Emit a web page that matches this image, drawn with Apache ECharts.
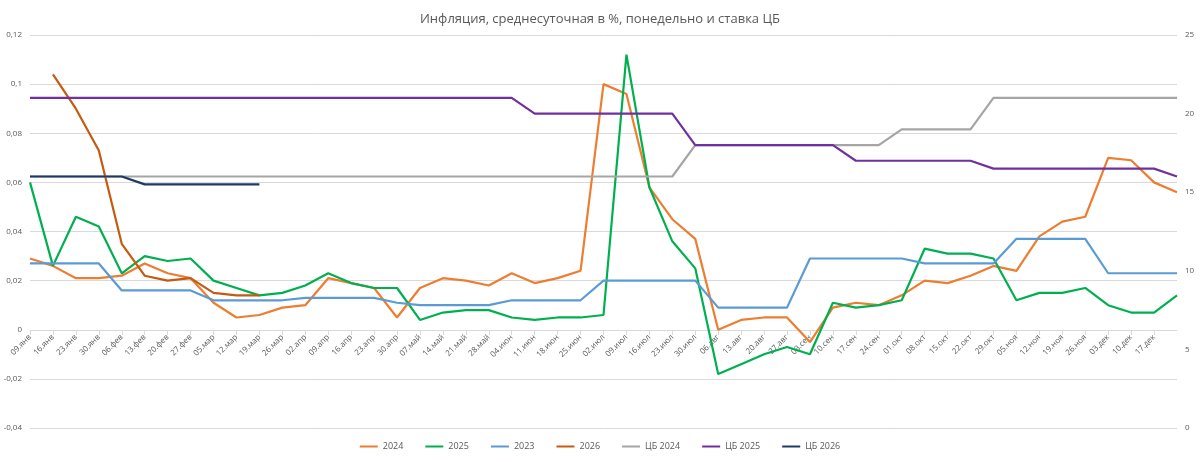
<!DOCTYPE html>
<html>
<head>
<meta charset="utf-8">
<script src="https://cdn.jsdelivr.net/npm/echarts@6/dist/echarts.min.js"></script>
<style>html,body{margin:0;padding:0;background:#fff}#chart{width:1200px;height:462px}</style>
</head>
<body>
<div id="chart"></div>
<script>
const weeks = ['09.янв','16.янв','23.янв','30.янв','06.фев','13.фев','20.фев','27.фев','05.мар','12.мар','19.мар','26.мар','02.апр','09.апр','16.апр','23.апр','30.апр','07.май','14.май','21.май','28.май','04.июн','11.июн','18.июн','25.июн','02.июл','09.июл','16.июл','23.июл','30.июл','06.авг','13.авг','20.авг','27.авг','03.сен','10.сен','17.сен','24.сен','01.окт','08.окт','15.окт','22.окт','29.окт','05.ноя','12.ноя','19.ноя','26.ноя','03.дек','10.дек','17.дек','24.дек'];

const infl2024 = [0.029,0.026,0.021,0.021,0.022,0.027,0.023,0.021,0.011,0.005,0.006,0.009,0.010,0.021,0.019,0.017,0.005,0.017,0.021,0.020,0.018,0.023,0.019,0.021,0.024,0.100,0.096,0.058,0.045,0.037,0.000,0.004,0.005,0.005,-0.005,0.009,0.011,0.010,0.014,0.020,0.019,0.022,0.026,0.024,0.038,0.044,0.046,0.070,0.069,0.060,0.056];
const infl2025 = [0.060,0.026,0.046,0.042,0.023,0.030,0.028,0.029,0.020,0.017,0.014,0.015,0.018,0.023,0.019,0.017,0.017,0.004,0.007,0.008,0.008,0.005,0.004,0.005,0.005,0.006,0.112,0.058,0.036,0.025,-0.018,-0.014,-0.010,-0.007,-0.010,0.011,0.009,0.010,0.012,0.033,0.031,0.031,0.029,0.012,0.015,0.015,0.017,0.010,0.007,0.007,0.014];
const infl2023 = [0.027,0.027,0.027,0.027,0.016,0.016,0.016,0.016,0.012,0.012,0.012,0.012,0.013,0.013,0.013,0.013,0.011,0.010,0.010,0.010,0.010,0.012,0.012,0.012,0.012,0.020,0.020,0.020,0.020,0.020,0.009,0.009,0.009,0.009,0.029,0.029,0.029,0.029,0.029,0.027,0.027,0.027,0.027,0.037,0.037,0.037,0.037,0.023,0.023,0.023,0.023];
const infl2026 = [null,0.104,0.090,0.073,0.035,0.022,0.020,0.021,0.015,0.014,0.014];

const cb2024 = [16,16,16,16,16,16,16,16,16,16,16,16,16,16,16,16,16,16,16,16,16,16,16,16,16,16,16,16,16,18,18,18,18,18,18,18,18,18,19,19,19,19,21,21,21,21,21,21,21,21,21];
const cb2025 = [21,21,21,21,21,21,21,21,21,21,21,21,21,21,21,21,21,21,21,21,21,21,20,20,20,20,20,20,20,18,18,18,18,18,18,18,17,17,17,17,17,17,16.5,16.5,16.5,16.5,16.5,16.5,16.5,16.5,16];
const cb2026 = [16,16,16,16,16,15.5,15.5,15.5,15.5,15.5,15.5];

const chart = echarts.init(document.getElementById('chart'));

function line(name, data, color, axis) {
  return {
    name: name, type: 'line', data: data, yAxisIndex: axis,
    symbol: 'none', connectNulls: false,
    lineStyle: { color: color, width: 2.2 }, itemStyle: { color: color }
  };
}

chart.setOption({
  animation: false,
  textStyle: { fontFamily: 'Open Sans, Liberation Sans, sans-serif' },
  title: {
    text: 'Инфляция, среднесуточная в %, понедельно и ставка ЦБ',
    left: 'center', top: 8,
    textStyle: { fontSize: 13, fontWeight: 'normal', color: '#595959' }
  },
  legend: {
    bottom: 6, itemWidth: 18, itemHeight: 2, itemGap: 22,
    icon: 'rect',
    textStyle: { fontSize: 9, color: '#595959' },
    data: ['2024','2025','2023','2026','ЦБ 2024','ЦБ 2025','ЦБ 2026']
  },
  grid: { left: 30, right: 23, top: 35, bottom: 34 },
  xAxis: {
    type: 'category', data: weeks, boundaryGap: false,
    // put the axis on the zero line of the left scale (0 sits 98px above the bottom)
    axisLine: { onZero: false, lineStyle: { color: '#d9d9d9' } },
    offset: -98,
    axisTick: { show: true, alignWithLabel: true, lineStyle: { color: '#d9d9d9' } },
    axisLabel: {
      rotate: 45, fontSize: 8, color: '#595959', margin: 6,
      interval: (i) => i < weeks.length - 1
    }
  },
  yAxis: [
    {
      type: 'value', min: -0.04, max: 0.12, interval: 0.02,
      axisLine: { show: false }, axisTick: { show: false },
      splitLine: { lineStyle: { color: '#d9d9d9' } },
      axisLabel: { fontSize: 8, color: '#595959', margin: 8,
        formatter: (v) => v === 0 ? '0' : String(+v.toFixed(2)).replace('.', ',') }
    },
    {
      type: 'value', min: 0, max: 25, interval: 5,
      axisLine: { show: false }, axisTick: { show: false }, splitLine: { show: false },
      axisLabel: { fontSize: 8, color: '#595959', margin: 8 }
    }
  ],
  series: [
    line('2024', infl2024, '#ED7D31', 0),
    line('2025', infl2025, '#00B050', 0),
    line('2023', infl2023, '#5B9BD5', 0),
    line('2026', infl2026, '#C55A11', 0),
    line('ЦБ 2024', cb2024, '#A5A5A5', 1),
    line('ЦБ 2025', cb2025, '#7030A0', 1),
    line('ЦБ 2026', cb2026, '#1F3864', 1)
  ]
});
</script>
</body>
</html>
